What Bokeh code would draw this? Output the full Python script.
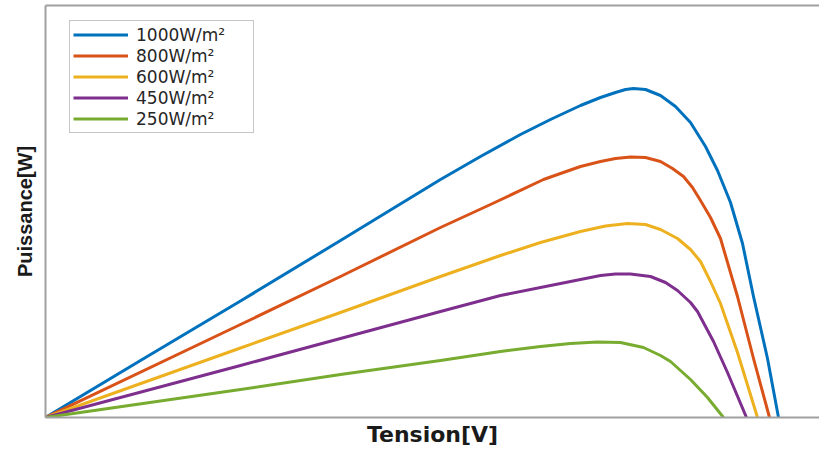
from bokeh.plotting import figure
from bokeh.models import Range1d, LinearAxis, FixedTicker, Legend, LegendItem
from bokeh.embed import file_html
from bokeh.resources import INLINE

# Tension [V] and Puissance [W], per irradiance
v1000 = [0, 2.85, 5.85, 8.85, 11.85, 13.05, 14.25, 15.15, 16.05, 16.65, 17.1, 17.4, 17.64, 18.0,
         18.45, 18.9, 19.35, 19.8, 20.16, 20.55, 20.91, 21.24, 21.66, 21.99]
p1000 = [0, 11.4, 23.3, 35.4, 47.6, 52.2, 56.6, 59.6, 62.4, 64.0, 65.0, 65.6, 65.8, 65.6,
         64.4, 62.2, 59.0, 54.2, 49.4, 43.0, 34.8, 24.2, 11.8, 0]

v800 = [0, 5.85, 8.85, 11.85, 13.35, 14.94, 15.45, 16.05, 16.65, 17.1, 17.55, 18.0, 18.45,
        18.81, 19.14, 19.41, 19.65, 19.95, 20.25, 20.76, 21.24, 21.72]
p800 = [0, 18.6, 28.2, 38.0, 42.6, 47.6, 48.8, 50.2, 51.2, 51.8, 52.1, 52.0, 51.2,
        49.8, 48.2, 46.0, 43.4, 40.0, 35.8, 24.2, 11.8, 0]

v600 = [0, 5.85, 8.85, 11.85, 13.65, 14.85, 16.05, 16.8, 17.46, 18.0, 18.45, 18.96, 19.35,
        19.65, 19.95, 20.25, 20.76, 21.36]
p600 = [0, 13.9, 21.0, 28.2, 32.4, 35.0, 37.2, 38.3, 38.8, 38.6, 37.6, 35.8, 33.6,
        31.2, 27.2, 22.8, 13.0, 0]

v450 = [0, 5.85, 8.85, 11.85, 13.65, 15.45, 16.65, 17.1, 17.55, 18.15, 18.6, 18.96, 19.35,
        19.56, 20.04, 20.46, 21.03]
p450 = [0, 10.4, 15.8, 21.2, 24.4, 26.8, 28.4, 28.7, 28.7, 28.2, 27.0, 25.4, 23.0,
        21.2, 15.2, 9.0, 0]

v250 = [0, 5.85, 8.85, 11.85, 13.65, 14.85, 15.75, 16.56, 17.25, 17.94, 18.45, 18.75, 19.35,
        19.86, 20.34]
p250 = [0, 5.6, 8.6, 11.4, 13.2, 14.2, 14.8, 15.1, 15.0, 14.0, 12.4, 11.2, 7.6,
        4.0, 0]

labels = ["1000W/m²", "800W/m²", "600W/m²", "450W/m²", "250W/m²"]
colors = ["#0072BD", "#D95319", "#EDB120", "#7E2F8E", "#77AC30"]
series = [(v1000, p1000), (v800, p800), (v600, p600), (v450, p450), (v250, p250)]

p = figure(width=819, height=452, output_backend="svg", toolbar_location=None,
           x_range=Range1d(0, 23.22), y_range=Range1d(0, 82.4),
           x_axis_location=None, y_axis_location=None,
           min_border_left=45, min_border_right=0, min_border_top=5, min_border_bottom=35)
p.outline_line_color = None
p.xgrid.visible = False
p.ygrid.visible = False
p.background_fill_color = "white"
p.border_fill_color = "white"


def make_axis(label, font, size, standoff):
    ax = LinearAxis(ticker=FixedTicker(ticks=[]), axis_label=label)
    ax.axis_line_color = "#a0a0a0"
    ax.axis_line_width = 2
    ax.major_tick_line_color = None
    ax.minor_tick_line_color = None
    ax.major_label_text_font_size = "0px"
    ax.major_label_standoff = 0
    ax.major_tick_out = 0
    ax.major_tick_in = 0
    ax.axis_label_text_font = font
    ax.axis_label_text_font_size = size
    ax.axis_label_text_font_style = "bold"
    ax.axis_label_text_color = "#1a1a1a"
    ax.axis_label_standoff = standoff
    return ax


p.add_layout(make_axis("Tension[V]", "DejaVu Sans", "22px", 4), "below")
p.add_layout(make_axis("Puissance[W]", "Liberation Sans", "20px", 10), "left")
p.add_layout(make_axis("", "DejaVu Sans", "1px", 0), "above")

items = []
for (v, pw), lab, col in zip(series, labels, colors):
    r = p.line(v, pw, line_color=col, line_width=3, line_join="round")
    items.append(LegendItem(label=lab, renderers=[r]))

legend = Legend(items=items, location=(24, 284))
legend.padding = 3
legend.spacing = 0
legend.margin = 0
legend.label_height = 21
legend.glyph_height = 21
legend.glyph_width = 55
legend.label_standoff = 8
legend.label_width = 114
legend.label_text_font = "DejaVu Sans"
legend.label_text_font_size = "17px"
legend.label_text_color = "#262626"
legend.border_line_color = "#8c8c8c"
legend.border_line_width = 1.5
legend.background_fill_color = "white"
legend.background_fill_alpha = 1
p.add_layout(legend)

open("out.html", "w").write(file_html(p, INLINE))
